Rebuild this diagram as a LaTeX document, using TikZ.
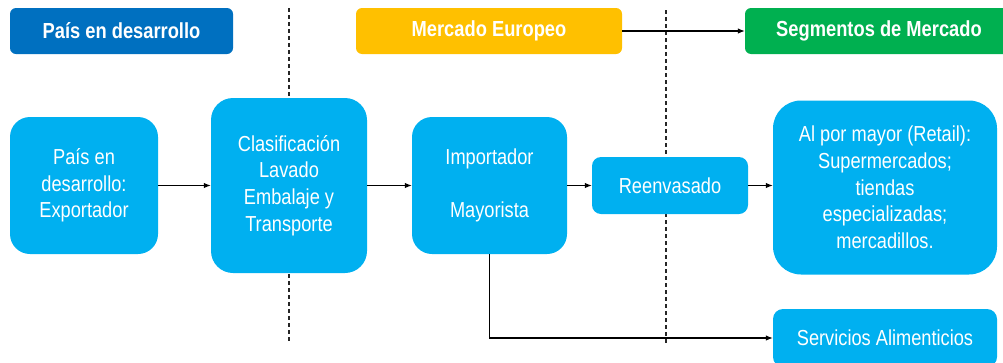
\documentclass[tikz,border=0pt]{standalone}
\usepackage{fontspec}
\setmainfont{Liberation Sans}[FakeStretch=0.84]
\usetikzlibrary{arrows.meta}
\definecolor{hdblue}{HTML}{0070C0}
\definecolor{hdorange}{HTML}{FFC000}
\definecolor{hdgreen}{HTML}{00B050}
\definecolor{boxblue}{HTML}{00B0F0}
\begin{document}
\begin{tikzpicture}[x=1pt,y=-1pt,
  hdr/.style={draw=none,rounded corners=6pt,text=white,font=\fontsize{21.8}{26}\selectfont\bfseries,inner sep=0pt,anchor=center},
  bx/.style={fill=boxblue,draw=none,text=white,align=center,font=\fontsize{21.7}{26.7}\selectfont,inner sep=0pt,anchor=center},
  conn/.style={line width=1.1pt,-{Latex[length=7pt,width=5.5pt]}},
  divider/.style={line width=1.2pt,dash pattern=on 4pt off 3pt,draw=black!85}]
\useasboundingbox (0,0) rectangle (1003,362);
\clip (0,0) rectangle (1003,362);
% headers
\node[hdr,fill=hdblue,minimum width=223pt,minimum height=46pt] (h1) at (121.5,31) {País en desarrollo};
\node[hdr,fill=hdorange,minimum width=266pt,minimum height=46pt] (h2) at (489,31) {Mercado Europeo};
\node[hdr,fill=hdgreen,minimum width=268pt,minimum height=46pt] (h3) at (879,31) {Segmentos de Mercado};
% dividers
\coordinate (d1t) at (289,8); \coordinate (d1b) at (289,341);
\coordinate (d2t) at (666,10); \coordinate (d2b) at (666,344);
\draw[divider] (d1t) -- (d1b);
\draw[divider] (d2t) -- (d2b);
% boxes
\node[bx,rounded corners=20pt,minimum width=148pt,minimum height=137pt] (a) at (84,185.5) {País en\\desarrollo:\\Exportador};
\node[bx,rounded corners=22pt,minimum width=156pt,minimum height=175pt] (b) at (289,185.5) {Clasificación\\Lavado\\Embalaje y\\Transporte};
\node[bx,rounded corners=20pt,minimum width=155pt,minimum height=137pt] (c) at (489.5,185.5) {Importador\\[26.7pt]Mayorista};
\node[bx,rounded corners=9pt,minimum width=156pt,minimum height=57pt] (d) at (670,185.5) {Reenvasado};
\node[bx,rounded corners=28pt,minimum width=224pt,minimum height=174pt] (e) at (885,187.5) {Al por mayor (Retail):\\Supermercados;\\tiendas\\especializadas;\\mercadillos.};
\node[bx,rounded corners=10pt,minimum width=224pt,minimum height=58pt] (f) at (885,338) {Servicios Alimenticios};
% connectors
\draw[conn] (h2) -- (h3);
\draw[conn] (a) -- (b);
\draw[conn] (b) -- (c);
\draw[conn] (c) -- (d);
\draw[conn] (d) -- (d -| e.west);
\draw[conn] (c.south) |- (f.west);
\end{tikzpicture}
\end{document}
